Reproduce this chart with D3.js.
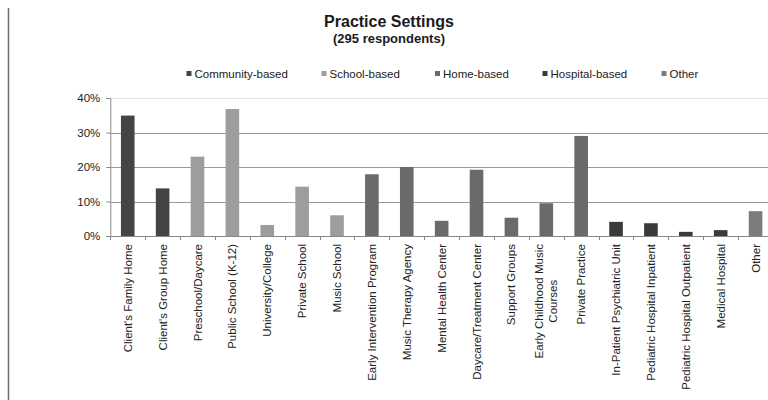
<!DOCTYPE html>
<html>
<head>
<meta charset="utf-8">
<script src="https://cdn.jsdelivr.net/npm/d3@7/dist/d3.min.js"></script>
<style>
  html, body { margin: 0; padding: 0; background: #fff; }
  svg { display: block; font-family: "Liberation Sans", Arial, sans-serif; }
</style>
</head>
<body>
<svg id="chart" width="768" height="400"></svg>
<script>
// Practice settings of survey respondents, share of 295 respondents
const categories = [
  "Client's Family Home", "Client's Group Home", "Preschool/Daycare",
  "Public School (K-12)", "University/College", "Private School",
  "Music School", "Early Intervention Program", "Music Therapy Agency",
  "Mental Health Center", "Daycare/Treatment Center", "Support Groups",
  "Early Childhood Music\nCourses", "Private Practice",
  "In-Patient Psychiatric Unit", "Pediatric Hospital Inpatient",
  "Pediatric Hospital Outpatient", "Medical Hospital", "Other"
];
const values = [34.9, 13.8, 23.0, 36.8, 3.2, 14.3, 6.0, 17.9, 20.0, 4.4,
                19.2, 5.3, 9.5, 29.0, 4.1, 3.7, 1.2, 1.7, 7.2];
const groups = [
  "Community-based", "Community-based", "School-based", "School-based",
  "School-based", "School-based", "School-based", "Home-based", "Home-based",
  "Home-based", "Home-based", "Home-based", "Home-based", "Home-based",
  "Hospital-based", "Hospital-based", "Hospital-based", "Hospital-based", "Other"
];
const seriesNames = ["Community-based", "School-based", "Home-based", "Hospital-based", "Other"];
const seriesColors = ["#444444", "#9d9d9d", "#6a6a6a", "#3a3a3a", "#7c7c7c"];
const yTicks = [0, 10, 20, 30, 40];

const svg = d3.select("#chart");

// outer frame edge on the left
svg.append("line")
  .attr("x1", 8.5).attr("x2", 8.5).attr("y1", 8).attr("y2", 400)
  .attr("stroke", "#707070").attr("stroke-width", 1.5);

const plot = { left: 110.3, right: 773, top: 98, bottom: 236 };

const x = d3.scaleBand()
  .domain(categories)
  .range([plot.left, plot.right])
  .paddingInner(0.61)
  .paddingOuter(0.305);

const y = d3.scaleLinear().domain([0, 40]).range([plot.bottom, plot.top]);

const color = d3.scaleOrdinal().domain(seriesNames).range(seriesColors);

// title
svg.append("text")
  .attr("x", 389).attr("y", 27)
  .attr("text-anchor", "middle")
  .attr("font-size", 16).attr("font-weight", "bold").attr("fill", "#1a1a1a")
  .text("Practice Settings");
svg.append("text")
  .attr("x", 389).attr("y", 43)
  .attr("text-anchor", "middle")
  .attr("font-size", 13).attr("font-weight", "bold").attr("fill", "#1a1a1a")
  .text("(295 respondents)");

// legend
const legendX = [186.5, 321.5, 435, 542.5, 661.5];
const legend = svg.append("g").selectAll("g")
  .data(seriesNames)
  .join("g")
  .attr("transform", (d, i) => `translate(${legendX[i]},74)`);
legend.append("rect")
  .attr("x", 0).attr("y", -3).attr("width", 5).attr("height", 5)
  .attr("fill", d => color(d));
legend.append("text")
  .attr("x", 8).attr("y", 0).attr("dy", "0.35em")
  .attr("font-size", 11.5).attr("fill", "#222")
  .text(d => d);

// gridlines
svg.append("g").selectAll("line")
  .data(yTicks.filter(t => t > 0))
  .join("line")
  .attr("x1", plot.left).attr("x2", 768)
  .attr("y1", d => Math.round(y(d)) + 0.5).attr("y2", d => Math.round(y(d)) + 0.5)
  .attr("stroke", d => d === 40 ? "#e2e2e2" : "#9a9a9a")
  .attr("stroke-width", 1);

// y axis
const yAxis = svg.append("g")
  .attr("transform", `translate(${plot.left},0)`)
  .call(d3.axisLeft(y).tickValues(yTicks).tickFormat(d => d + "%").tickSize(4).tickPadding(6));
yAxis.select(".domain").attr("stroke", "#8a8a8a");
yAxis.selectAll(".tick line").attr("stroke", "#8a8a8a");
yAxis.selectAll(".tick text")
  .attr("font-size", 11.5).attr("fill", "#222")
  .attr("font-family", "Liberation Sans, Arial, sans-serif");

// bars
svg.append("g").selectAll("rect")
  .data(categories)
  .join("rect")
  .attr("x", d => x(d))
  .attr("width", x.bandwidth())
  .attr("y", (d, i) => y(values[i]))
  .attr("height", (d, i) => y(0) - y(values[i]))
  .attr("fill", (d, i) => color(groups[i]));

// x axis line and ticks at category boundaries
svg.append("line")
  .attr("x1", plot.left).attr("x2", 768)
  .attr("y1", plot.bottom + 0.5).attr("y2", plot.bottom + 0.5)
  .attr("stroke", "#8a8a8a");
const step = x.step();
const boundaries = d3.range(categories.length + 1).map(i => plot.left + i * step);
svg.append("g").selectAll("line")
  .data(boundaries.filter(b => b < 768))
  .join("line")
  .attr("x1", d => Math.round(d) + 0.5).attr("x2", d => Math.round(d) + 0.5)
  .attr("y1", plot.bottom).attr("y2", plot.bottom + 4)
  .attr("stroke", "#8a8a8a");

// rotated category labels
const labels = svg.append("g").selectAll("g")
  .data(categories)
  .join("g")
  .attr("transform", d => `translate(${x(d) + x.bandwidth() / 2},${plot.bottom + 8}) rotate(-90)`);
labels.each(function (d) {
  const g = d3.select(this);
  const lines = d.split("\n");
  const lineH = 14;
  const texts = lines.map((ln, k) => g.append("text")
    .attr("font-size", 11.5).attr("fill", "#222")
    .attr("y", (k - (lines.length - 1) / 2) * lineH)
    .attr("dy", "0.35em")
    .text(ln));
  if (lines.length === 1) {
    texts[0].attr("text-anchor", "end").attr("x", 0);
  } else {
    const w = d3.max(texts, t => t.node().getComputedTextLength());
    texts.forEach(t => t.attr("text-anchor", "middle").attr("x", -w / 2));
  }
});
</script>
</body>
</html>
